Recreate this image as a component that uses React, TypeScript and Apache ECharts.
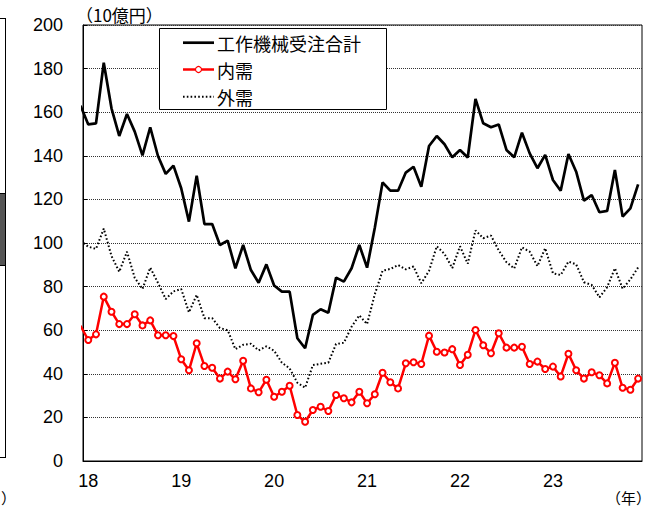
import React, { useEffect, useRef } from "react";
import * as echarts from "echarts";

// Monthly data, Dec 2017 (partly outside the plot) to Dec 2023, unit: 10億円
const monthLabels: string[] = [];
for (let y = 2017; y <= 2023; y++) {
  for (let m = 1; m <= 12; m++) {
    if (y === 2017 && m < 12) continue;
    monthLabels.push(`${y}-${String(m).padStart(2, "0")}`);
  }
}

const totalOrders = [
  163,
  154.4, 154.9, 182.7, 161.8, 149.1, 159.2, 151.1, 140.2, 153.1, 139.9, 131.7, 135.5,
  125.1, 109.8, 130.9, 108.7, 108.7, 99.1, 101.1, 88.4, 99.1, 87.6, 81.8, 90.2,
  80.5, 77.7, 77.7, 56.3, 51.7, 67.0, 69.6, 68.0, 84.1, 82.3, 88.4, 99.1,
  88.7, 107, 127.8, 124.0, 124.0, 132.3, 135.0, 125.8, 144.5, 149.1, 145.3, 139.3,
  142.7, 139.2, 166.1, 154.9, 153.1, 154.4, 142.7, 139.3, 150.6, 141.1, 134.3, 140.4,
  128.9, 124.0, 140.8, 132.7, 119.4, 122.0, 114.1, 114.7, 133.5, 112.1, 115.9, 126.9,
];

const domestic = [
  62,
  55.5, 58.1, 75.4, 68.5, 62.8, 62.8, 67.3, 62.2, 64.5, 57.7, 57.7, 57.3,
  46.7, 41.6, 54.0, 43.6, 42.8, 37.8, 41.0, 37.5, 46.0, 33.3, 31.5, 37.3,
  29.5, 31.8, 34.5, 21.1, 18.0, 23.4, 24.9, 22.9, 30.3, 28.8, 26.9, 31.8,
  26.5, 30.6, 40.5, 36.1, 33.3, 44.8, 45.3, 44.5, 57.5, 50.1, 49.8, 51.3,
  44.0, 48.7, 60.1, 53.1, 49.4, 58.6, 52.0, 52.0, 52.4, 44.5, 45.6, 42.2,
  43.3, 38.8, 49.2, 41.6, 37.8, 40.7, 39.3, 35.6, 45.1, 33.6, 32.7, 37.8,
];

const external = [
  101,
  98.3, 97.3, 106.6, 94.0, 86.8, 96.0, 84.0, 78.9, 88.7, 81.7, 74.3, 77.8,
  78.9, 68.2, 76.2, 65.5, 65.5, 61.0, 60.0, 51.3, 53.3, 53.8, 50.7, 52.6,
  50.6, 45.1, 42.5, 35.9, 33.6, 44.0, 44.6, 45.1, 53.7, 54.2, 61.6, 66.8,
  62.8, 76.5, 87.3, 88.1, 89.9, 87.9, 89.2, 81.5, 87.2, 98.5, 95.0, 88.5,
  98.5, 90.5, 105.8, 102.2, 103.4, 96.6, 91.2, 88.3, 98.0, 96.0, 89.4, 97.6,
  86.1, 85.3, 91.5, 90.2, 82.0, 80.8, 75.1, 79.7, 88.4, 79.0, 83.3, 88.8,
];

const seriesNames = ["工作機械受注合計", "内需", "外需"];
const yearTickIndex = [0, 12, 24, 36, 48, 60];
const yearLabels = ["18", "19", "20", "21", "22", "23"];

// month offset from Jan 2018
const monthIndex = monthLabels.map((_, i) => i - 1);
const toPairs = (vals: number[]) => vals.map((v, i) => [monthIndex[i], v]);

const FONT = "'Liberation Sans', Arial, 'Noto Sans CJK JP', sans-serif";
const CJK = "'Noto Sans CJK JP', 'Liberation Sans', sans-serif";

export default function App() {
  const ref = useRef<HTMLDivElement>(null);
  useEffect(() => {
    if (!ref.current) return;
    const chart = echarts.init(ref.current, undefined, { renderer: "svg" });
    const legendX = 183;
    const legendRows = [42.7, 69.5, 96.7];
    chart.setOption({
      animation: false,
      backgroundColor: "#fff",
      grid: {
        left: 83,
        right: 28,
        top: 25,
        bottom: 50,
        show: true,
        borderColor: "#000",
        borderWidth: 1,
      },
      xAxis: {
        type: "value",
        min: -0.68,
        max: 71.5,
        axisLine: { show: true, onZero: false, lineStyle: { color: "#000", width: 1 } },
        axisTick: { show: false },
        splitLine: { show: false },
        axisLabel: {
          customValues: yearTickIndex,
          formatter: (v: number) => yearLabels[yearTickIndex.indexOf(v)] ?? "",
          color: "#000",
          fontSize: 18,
          fontFamily: FONT,
          margin: 11,
        },
      },
      yAxis: {
        type: "value",
        min: 0,
        max: 200,
        interval: 20,
        axisLine: { show: true, onZero: false, lineStyle: { color: "#000", width: 1 } },
        axisTick: { show: true, inside: true, length: 4, lineStyle: { color: "#000" } },
        splitLine: { show: true, lineStyle: { color: "#333", width: 1, type: [1, 1] } },
        axisLabel: { color: "#000", fontSize: 18, fontFamily: FONT, margin: 20 },
      },
      series: [
        {
          name: seriesNames[0],
          type: "line",
          data: toPairs(totalOrders),
          symbol: "none",
          lineStyle: { color: "#000", width: 2.7 },
          itemStyle: { color: "#000" },
          z: 3,
        },
        {
          name: seriesNames[2],
          type: "line",
          data: toPairs(external),
          symbol: "none",
          lineStyle: { color: "#000", width: 2, type: [1.6, 2.2] },
          itemStyle: { color: "#000" },
          z: 3,
        },
        {
          name: seriesNames[1],
          type: "line",
          data: toPairs(domestic),
          symbol: "emptyCircle",
          symbolSize: 6,
          showAllSymbol: true,
          lineStyle: { color: "#ff0000", width: 2.5 },
          itemStyle: { color: "#ff0000", borderWidth: 1.2 },
          z: 4,
        },
      ],
      graphic: [
        // unit label and year label
        {
          type: "text",
          x: 76,
          y: 14,
          z: 100,
          style: { text: "（10億円）", fontSize: 17, fontFamily: CJK, fill: "#000", verticalAlign: "middle" },
        },
        {
          type: "text",
          x: 606,
          y: 497,
          z: 100,
          style: { text: "（年）", fontSize: 15, fontFamily: CJK, fill: "#000", verticalAlign: "middle" },
        },
        // legend box
        {
          type: "rect",
          z: 100,
          shape: { x: 159.5, y: 28.5, width: 227, height: 81 },
          style: { fill: "#fff", stroke: "#000", lineWidth: 1 },
        },
        {
          type: "line",
          z: 101,
          shape: { x1: legendX, y1: legendRows[0], x2: legendX + 31, y2: legendRows[0] },
          style: { stroke: "#000", lineWidth: 2.7 },
        },
        {
          type: "line",
          z: 101,
          shape: { x1: legendX, y1: legendRows[1], x2: legendX + 31, y2: legendRows[1] },
          style: { stroke: "#ff0000", lineWidth: 2.5 },
        },
        {
          type: "circle",
          z: 102,
          shape: { cx: legendX + 15.5, cy: legendRows[1], r: 3 },
          style: { fill: "#fff", stroke: "#ff0000", lineWidth: 1.2 },
        },
        {
          type: "line",
          z: 101,
          shape: { x1: legendX, y1: legendRows[2], x2: legendX + 31, y2: legendRows[2] },
          style: { stroke: "#000", lineWidth: 2, lineDash: [1.6, 2.2] },
        },
        ...seriesNames.map((name, i) => ({
          type: "text",
          z: 102,
          x: 217,
          y: legendRows[i],
          style: { text: name, fontSize: 18, fontFamily: CJK, fill: "#000", verticalAlign: "middle" },
        })),
        // fragment of the neighbouring chart at the left edge
        {
          type: "line",
          z: 100,
          shape: { x1: 5.5, y1: 18, x2: 5.5, y2: 458 },
          style: { stroke: "#000", lineWidth: 1 },
        },
        {
          type: "line",
          z: 100,
          shape: { x1: 0, y1: 18.5, x2: 5.5, y2: 18.5 },
          style: { stroke: "#000", lineWidth: 1 },
        },
        {
          type: "line",
          z: 100,
          shape: { x1: 0, y1: 457.5, x2: 5.5, y2: 457.5 },
          style: { stroke: "#000", lineWidth: 1 },
        },
        {
          type: "rect",
          z: 100,
          shape: { x: -2, y: 193.5, width: 7.5, height: 72 },
          style: { fill: "#555", stroke: "#000", lineWidth: 1 },
        },
        {
          type: "text",
          x: 1,
          y: 497,
          z: 100,
          style: { text: "）", fontSize: 15, fontFamily: CJK, fill: "#000", verticalAlign: "middle" },
        },
      ],
    });
    return () => chart.dispose();
  }, []);
  return (
    <div
      ref={ref}
      style={{ position: "absolute", left: 0, top: 0, width: 670, height: 511 }}
    />
  );
}
